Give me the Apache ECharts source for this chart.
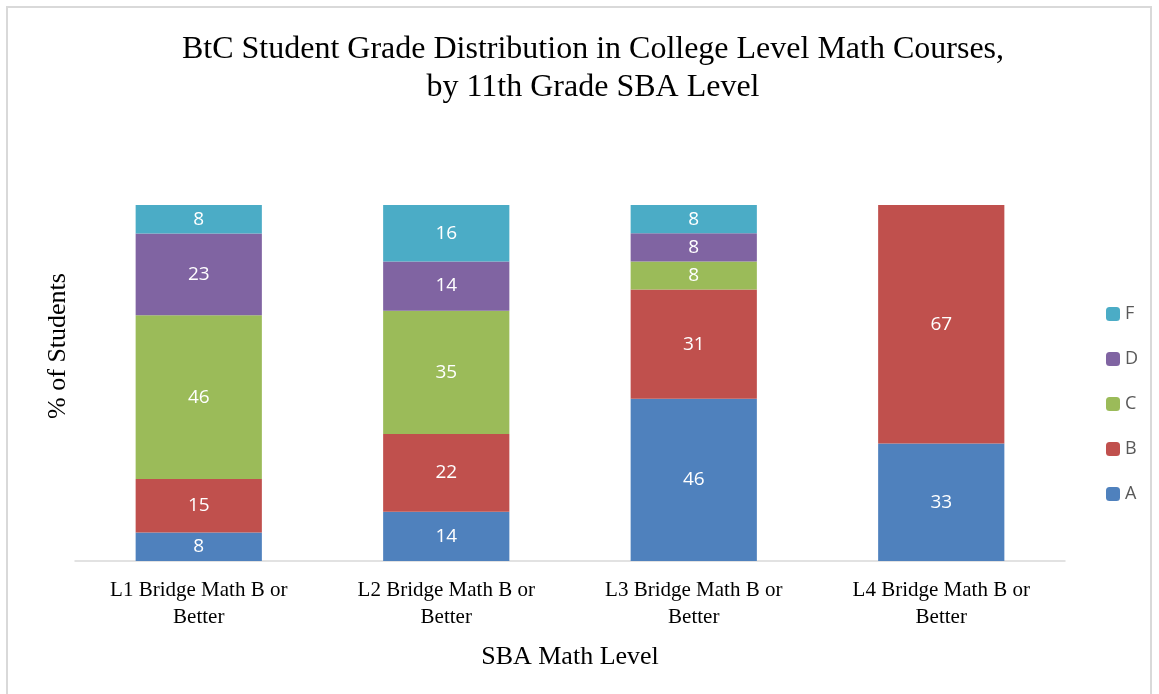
<!DOCTYPE html>
<html><head><meta charset="utf-8">
<script src="https://cdn.jsdelivr.net/npm/echarts@6/dist/echarts.min.js"></script>
<style>html,body{margin:0;padding:0;background:#fff}#c{width:1159px;height:694px}
#b{position:absolute;left:6px;top:6px;width:1146px;height:700px;border:2px solid #d9d9d9;box-sizing:border-box;pointer-events:none}</style>
</head><body><div id="c"></div><div id="b"></div>
<script>
const categories = ['L1 Bridge Math B or\nBetter','L2 Bridge Math B or\nBetter','L3 Bridge Math B or\nBetter','L4 Bridge Math B or\nBetter'];
const gradeA = [8, 14, 46, 33];
const gradeB = [15, 22, 31, 67];
const gradeC = [46, 35, 8, null];
const gradeD = [23, 14, 8, null];
const gradeF = [8, 16, 8, null];
const seriesNames = ['A','B','C','D','F'];
const colors = ['#4F81BD','#C0504D','#9BBB59','#8064A2','#4BACC6'];
const raw = [gradeA, gradeB, gradeC, gradeD, gradeF];
const totals = categories.map((_, i) => raw.reduce((s, arr) => s + (arr[i] || 0), 0));
const serif = '"Liberation Serif","Times New Roman",serif';
const chart = echarts.init(document.getElementById('c'));
chart.setOption({
  animation: false,
  title: {text: 'BtC Student Grade Distribution in College Level Math Courses,\nby 11th Grade SBA Level', left: 588, top: 26, textAlign: 'center',
    textStyle: {fontFamily: serif, fontSize: 32, fontWeight: 'normal', color: '#000', lineHeight: 38}},
  legend: {orient: 'vertical', left: 1101, top: 300, itemGap: 27, itemWidth: 14, itemHeight: 14,
    data: ['F','D','C','B','A'], textStyle: {fontFamily: '"Open Sans",sans-serif', fontSize: 18, color: '#595959'}},
  graphic: [{type: 'text', x: 58, y: 346, rotation: Math.PI / 2,
    style: {text: '% of Students', fontFamily: serif, fontSize: 26, fill: '#000', align: 'center', verticalAlign: 'middle'}}],
  grid: {left: 75, right: 94, top: 205, bottom: 133, containLabel: false},
  xAxis: {type: 'category', data: categories, name: 'SBA Math Level', nameLocation: 'middle', nameGap: 83,
    nameTextStyle: {fontFamily: serif, fontSize: 26, color: '#000'},
    axisLine: {lineStyle: {color: '#d9d9d9', width: 1.5}}, axisTick: {show: false},
    axisLabel: {fontFamily: serif, fontSize: 21, color: '#000', margin: 16, lineHeight: 27}},
  yAxis: {type: 'value', min: 0, max: 100,
    axisLine: {show: false}, axisTick: {show: false}, axisLabel: {show: false}, splitLine: {show: false}},
  series: raw.map((arr, k) => ({
    name: seriesNames[k], type: 'bar', stack: 'total', barWidth: '51%',
    itemStyle: {color: colors[k]},
    data: arr.map((v, i) => v == null ? null : {value: v / totals[i] * 100, raw: v}),
    label: {show: true, position: 'inside', color: '#fff', fontSize: 19, fontFamily: '"Open Sans",sans-serif',
      formatter: p => p.data ? String(p.data.raw) : ''}
  }))
});
</script></body></html>
